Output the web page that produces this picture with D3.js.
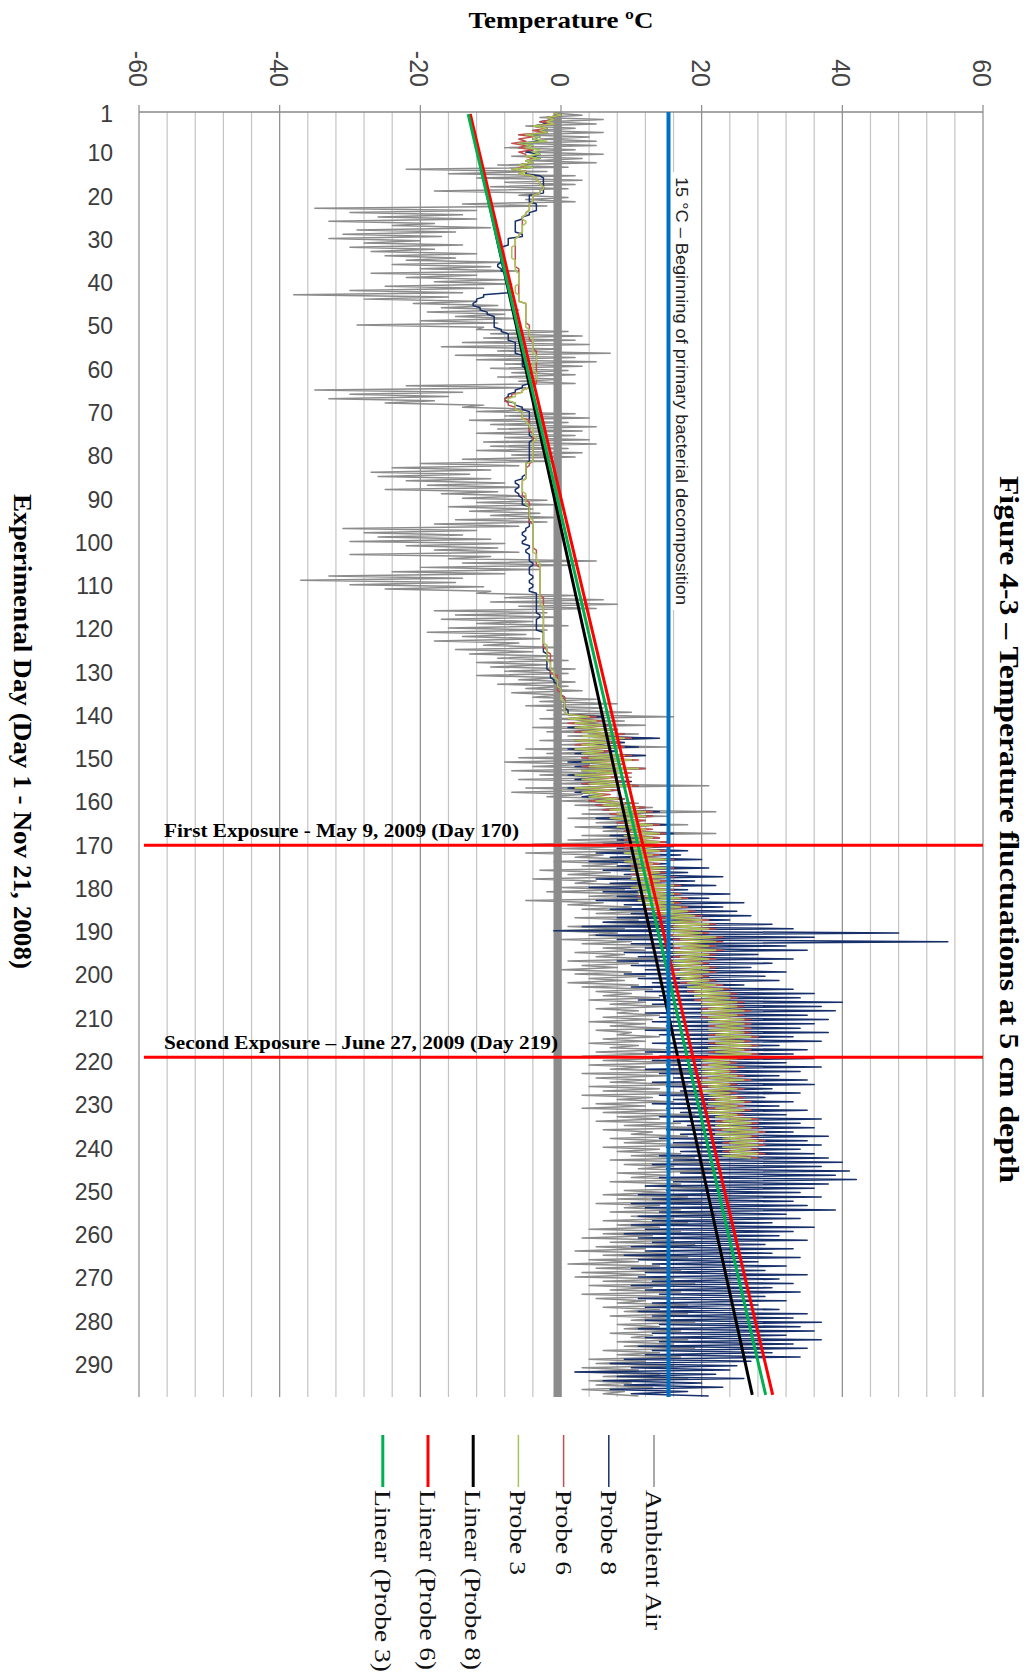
<!DOCTYPE html>
<html>
<head>
<meta charset="utf-8">
<script src="https://cdn.jsdelivr.net/npm/d3@7"></script>
<style>
  body { margin: 0; background: #fff; }
  svg { display: block; }
</style>
</head>
<body>
<svg id="chart" width="1034" height="1678"></svg>
<script>
// axis ticks
let tempTicks = [-60, -40, -20, 0, 20, 40, 60];
let dayTicks = [1, 10, 20, 30, 40, 50, 60, 70, 80, 90, 100, 110, 120, 130, 140, 150, 160, 170, 180, 190,
                200, 210, 220, 230, 240, 250, 260, 270, 280, 290];
let dayCount = 297;

// daily low / high readings, degrees C (day 1 first)
let ambientLo = [-1,-3,-2,-5,-4,-6,-3,-6,-8,-5, -7,-4,-9,-22,-16,-12,-8,-10,-18,-6,
  -5,-14,-35,-30,-26,-33,-24,-29,-31,-33, -28,-30,-27,-25,-22,-24,-20,-27,-22,-18,
  -25,-30,-38,-28,-21,-17,-19,-15,-20,-29, -12,-10,-11,-14,-17,-9,-15,-12,-8,-10,
  -7,-9,-6,-22,-35,-30,-33,-25,-14,-12, -8,-13,-10,-9,-12,-8,-11,-10,-12,-7,
  -14,-20,-24,-27,-26,-22,-19,-25,-17,-14, -12,-16,-13,-10,-15,-18,-31,-28,-26,-30,
  -22,-18,-30,-16,-14,-20,-24,-33,-37,-30, -25,-12,-8,-10,-6,-18,-15,-17,-12,-16,
  -19,-14,-18,-11,-15,-13,-9,-12,-10,-8, -12,-6,-9,-5,-7,-4,-3,-5,-2,-1,
  -3,0,-4,-2,1,-3,0,-5,-2,-6, -8,-4,-7,-3,-6,-1,-5,-7,-2,0,
  2,4,3,1,5,2,6,3,1,-4, 0,-5,2,-1,3,-3,1,-4,2,0,
  -2,4,-5,1,3,5,2,6,1,-1, 4,0,3,6,2,5,1,3,0,2,
  4,1,3,5,6,4,7,5,8,6, 4,7,5,8,6,4,7,5,3,6,
  4,7,3,5,7,4,6,3,8,5, 3,6,8,5,9,6,10,7,9,6,
  8,10,7,9,11,8,10,7,12,9, 6,8,5,9,7,10,6,8,4,6,
  3,7,5,2,6,4,1,5,3,2, 6,4,7,3,5,8,6,9,7,10,
  8,9,7,10,8,9,6,8,4,5, 3,2,6,4,5,3,6];
let ambientHi = [3,6,5,2,6,4,5,5,2,6, 3,5,1,-2,2,3,2,1,-3,1,
  2,-2,-12,-14,-12,-18,-10,-15,-17,-20, -14,-18,-12,-15,-8,-10,-6,-12,-8,-7,
  -11,-14,-16,-12,-9,-6,-8,-6,-9,-11, 1,3,2,4,0,7,2,5,3,1,
  2,0,2,-5,-14,-16,-18,-11,-3,2, 4,1,5,3,2,4,5,1,3,2,
  -1,-6,-10,-13,-10,-8,-6,-9,-5,-2, -1,-4,-3,0,-2,-6,-12,-14,-10,-8,
  -9,-6,-10,5,2,-3,-8,-14,-15,-11, -10,2,6,8,5,-2,0,-4,1,-2,
  -5,-3,-6,0,-4,-1,1,-2,2,1, 0,2,1,3,0,5,8,6,10,16,
  9,12,7,11,13,9,15,8,12,6, 4,9,5,10,8,21,7,3,9,11,
  13,22,15,12,18,10,22,14,11,9, 12,6,11,8,15,7,10,5,13,9,
  11,14,6,10,12,19,11,14,9,8, 13,10,16,12,9,14,11,8,10,12,
  9,11,13,10,14,12,15,11,14,13, 12,15,10,14,12,11,15,13,14,17,
  12,19,15,12,18,14,20,13,16,12, 15,19,14,17,20,13,18,15,20,14,
  17,19,21,16,22,15,20,17,21,15, 18,20,14,17,22,16,18,14,17,13,
  16,19,12,15,18,11,14,17,12,16, 19,13,17,15,12,18,14,18,15,19,
  14,17,13,18,16,19,14,17,12,16, 11,14,18,10,13,9,11];

let probe8Lo = [-1,-2,-3,-4,-3,-5,-4,-6,-5,-5, -4,-5,-6,-7,-5,-2.5,-2.5,-2.5,-2.5,-4.5,
  -4.5,-3.5,-3.5,-4.5,-5.5,-6.5,-6.5,-6.5,-5.5,-7.5, -7.5,-8.5,-8.5,-8.5,-8.5,-9,-8.5,-7.5,-7.5,-7.5,
  -7.5,-7.5,-11,-12,-12.5,-11.5,-10.5,-9.5,-9.5,-9.5, -8.5,-7.5,-7.5,-6.5,-6.5,-6.5,-5.5,-5.5,-5.5,-5,
  -4.5,-4.5,-4.5,-5.5,-6.5,-7.5,-8,-6.5,-5.5,-4.5, -4.5,-4.5,-4.5,-4.5,-4.5,-4,-4.5,-4.5,-4.5,-4.5,
  -4.5,-5,-5,-5,-5.5,-6.5,-6,-6.5,-6,-5.5, -5.5,-4.5,-4.5,-4.5,-4.5,-4.5,-5,-5.5,-5,-5.5,
  -4.5,-5,-4.5,-4.5,-4,-4.5,-4.5,-4,-4.5,-4, -4.5,-3.5,-3.5,-3.5,-3.5,-3.5,-3,-3.5,-3.5,-3.5,
  -2.5,-2.5,-2.5,-2.5,-2.5,-2,-2,-2,-2,-1.5, -1.5,-1,-0.5,0,0,0.5,0.5,0.5,1,1,
  1,2,1,2,3,2,3,1,2,3, 1,2,3,1,2,3,1,2,3,4,
  5,6,7,5,8,6,9,7,8,6, 8,5,7,4,8,6,9,5,7,4,
  6,8,5,9,7,10,8,6,3,-1, 5,8,10,12,9,11,8,10,12,9,
  11,13,10,12,14,11,13,15,12,14, 13,15,12,14,16,13,15,12,14,13,
  15,12,14,16,13,15,17,14,16,13, 15,17,14,16,18,15,17,14,16,15,
  17,14,16,13,15,17,14,16,12,15, 11,13,10,12,14,11,13,10,12,9,
  11,13,10,12,9,11,13,10,12,11, 13,10,12,14,11,13,12,11,13,12,
  14,11,13,12,14,11,13,12,9,7, 10,2,8,6,9,7,10];
let probe8Hi = [0,-1,-2,-2,-2,-3,-3,-4,-4,-3, -3,-4,-4,-5,-3,-2.5,-2.5,-2.5,-2.5,-4.5,
  -4.5,-3.5,-3.5,-4.5,-5.5,-6.5,-6.5,-6.5,-5.5,-7.5, -7.5,-8.5,-8.5,-8.5,-8.5,-9,-8.5,-7.5,-7.5,-7.5,
  -7.5,-7.5,-11,-12,-12.5,-11.5,-10.5,-9.5,-9.5,-9.5, -8.5,-7.5,-7.5,-6.5,-6.5,-6.5,-5.5,-5.5,-5.5,-5,
  -4.5,-4.5,-4.5,-5.5,-6.5,-7.5,-8,-6.5,-5.5,-4.5, -4.5,-4.5,-4.5,-4.5,-4.5,-4,-4.5,-4.5,-4.5,-4.5,
  -4.5,-5,-5,-5,-5.5,-6.5,-6,-6.5,-6,-5.5, -5.5,-4.5,-4.5,-4.5,-4.5,-4.5,-5,-5.5,-5,-5.5,
  -4.5,-5,-4.5,-4.5,-4,-4.5,-4.5,-4,-4.5,-4, -4.5,-3.5,-3.5,-3.5,-3.5,-3.5,-3,-3.5,-3.5,-3.5,
  -2.5,-2.5,-2.5,-2.5,-2.5,-2,-2,-2,-2,-1.5, -1.5,-1,-0.5,0,0,0.5,0.5,0.5,1,6,
  5,7,8,9,14,9,11,8,12,10, 8,12,9,7,10,11,8,6,9,10,
  12,14,13,11,15,12,16,14,15,16, 18,17,20,15,21,18,23,19,22,18,
  24,21,26,23,25,27,24,30,33,48, 36,55,32,35,28,33,30,27,32,29,
  31,26,33,36,34,40,37,39,35,38, 36,34,38,33,37,31,35,33,36,32,
  37,34,31,35,36,30,34,29,33,31, 35,32,37,34,36,33,38,35,37,34,
  36,38,40,37,41,39,42,38,36,34, 37,33,35,39,32,34,30,36,33,31,
  35,29,33,30,34,28,32,29,35,31, 33,30,34,29,32,28,31,35,33,37,
  34,36,32,37,33,35,30,34,27,25, 24,22,26,20,23,18,21];

let probe6Lo = [-1,-2,-3,-4,-4,-6,-6,-7,-6,-6, -5,-5,-6,-7,-6,-3.5,-3,-2.5,-3,-4,
  -4,-4.5,-4.5,-5,-5.5,-5.5,-5.5,-5.5,-6,-6.5, -6.5,-6.5,-6.5,-6.5,-6.5,-6.5,-6,-6,-6,-6,
  -6,-6,-6,-6,-5,-5,-5,-5,-5,-4.5, -4.5,-4.5,-4.5,-4,-4,-3.5,-3.5,-3.5,-3.5,-3.5,
  -3.5,-3.5,-3.5,-4.5,-5.5,-7,-8,-7.5,-6.5,-5.5, -5.5,-4.5,-4.5,-4.5,-4,-4,-4,-4,-4,-4,
  -4,-4.5,-5,-5,-5,-5.5,-5.5,-5.5,-5.5,-5, -4.5,-4.5,-4.5,-4.5,-4.5,-4,-4,-4,-4,-4,
  -4,-3.5,-3.5,-3.5,-3.5,-3,-3,-3,-3,-3, -3,-3,-2.5,-2.5,-2.5,-2.5,-2.5,-2.5,-2.5,-2.5,
  -2.5,-2.5,-2.5,-2.5,-2,-1.5,-1.5,-1.5,-1.5,-1.5, -0.5,-0.5,-0.5,-0.5,0,0.5,0.5,0.5,0.5,1,
  1,1,2,2,3,2,2,2,3,3, 3,3,3,2,3,3,2,3,4,4,
  5,6,7,7,8,8,9,9,9,9, 9,9,10,9,10,10,10,10,11,10,
  11,11,11,12,12,13,14,15,15,15, 15,16,16,16,16,16,16,16,16,16,
  17,17,18,18,19,19,20,20,20,20, 21,21,21,21,21,21,21,21,21,20,
  20,20,20,20,20,20,20,21,21,21, 21,21,22,22,22,22,22,23,23,23,
  23,23];
let probe6Hi = [0,-1,-1,-2,-2,-4,-5,-5,-4,-5, -4,-4,-5,-5,-4,-3.5,-3,-2.5,-3,-4,
  -4,-4.5,-4.5,-5,-5.5,-5.5,-5.5,-5.5,-6,-6.5, -6.5,-6.5,-6.5,-6.5,-6.5,-6.5,-6,-6,-6,-6,
  -6,-6,-6,-6,-5,-5,-5,-5,-5,-4.5, -4.5,-4.5,-4.5,-4,-4,-3.5,-3.5,-3.5,-3.5,-3.5,
  -3.5,-3.5,-3.5,-4.5,-5.5,-7,-8,-7.5,-6.5,-5.5, -5.5,-4.5,-4.5,-4.5,-4,-4,-4,-4,-4,-4,
  -4,-4.5,-5,-5,-5,-5.5,-5.5,-5.5,-5.5,-5, -4.5,-4.5,-4.5,-4.5,-4.5,-4,-4,-4,-4,-4,
  -4,-3.5,-3.5,-3.5,-3.5,-3,-3,-3,-3,-3, -3,-3,-2.5,-2.5,-2.5,-2.5,-2.5,-2.5,-2.5,-2.5,
  -2.5,-2.5,-2.5,-2.5,-2,-1.5,-1.5,-1.5,-1.5,-1.5, -0.5,-0.5,-0.5,-0.5,0,0.5,0.5,0.5,0.5,5,
  6,7,8,9,10,8,9,7,10,11, 9,12,10,8,9,11,8,7,9,10,
  12,13,13,12,14,13,15,14,15,14, 15,14,16,14,16,15,16,15,17,16,
  17,18,17,18,19,20,21,22,22,21, 23,23,22,23,22,22,21,22,22,21,
  22,23,24,25,25,26,26,27,26,27, 27,27,27,28,27,28,27,28,26,25,
  26,25,26,27,25,26,25,26,27,26, 27,26,28,28,28,29,28,29,29,28,
  29,28];

let probe3Lo = [-1,-2,-2,-4,-3,-5,-4,-6,-5,-4, -5,-5,-6,-7,-6,-3.5,-3,-2.5,-3,-4,
  -4,-4.5,-4.5,-5,-5.5,-5,-5.5,-5.5,-6,-6.5, -6.5,-7,-7,-7,-6.5,-6.5,-6.5,-6,-6,-6,
  -6.5,-6.5,-6,-6,-5,-5,-5,-5,-5,-5, -4.5,-4.5,-4,-4,-4,-4,-3.5,-3.5,-4,-4,
  -3.5,-3.5,-4,-4.5,-5.5,-6.5,-7.5,-6.5,-6.5,-5.5, -5.5,-5,-4.5,-4,-4,-3.5,-4,-4,-4,-4,
  -4,-5,-5,-5,-5,-5.5,-5.5,-5.5,-5,-5, -5,-4.5,-4.5,-4.5,-4,-4,-4,-4,-4,-4,
  -4,-4,-3.5,-3.5,-3,-3,-3,-3,-3,-3, -3,-3,-3,-3,-2.5,-2.5,-2.5,-2.5,-2.5,-2.5,
  -2.5,-2.5,-2.5,-2,-2,-2,-2,-1.5,-1.5,-1, -1,-0.5,-0.5,0,0,0,0.5,0.5,0.5,1,
  1,2,2,3,3,2,3,2,3,4, 3,4,3,2,3,4,2,3,4,5,
  6,7,8,7,9,8,10,9,10,9, 10,9,10,9,11,10,11,10,11,10,
  11,12,11,12,13,14,15,15,16,15, 16,17,16,17,16,17,16,16,17,16,
  17,18,18,19,19,20,20,21,20,21, 21,22,21,22,21,22,21,22,21,20,
  21,20,20,21,20,21,20,21,22,21, 22,21,22,23,22,23,22,23,24,23,
  24,23];
let probe3Hi = [0,-1,-1,-2,-2,-3,-2,-4,-3,-3, -3,-4,-4,-5,-4,-3.5,-3,-2.5,-3,-4,
  -4,-4.5,-4.5,-5,-5.5,-5,-5.5,-5.5,-6,-6.5, -6.5,-7,-7,-7,-6.5,-6.5,-6.5,-6,-6,-6,
  -6.5,-6.5,-6,-6,-5,-5,-5,-5,-5,-5, -4.5,-4.5,-4,-4,-4,-4,-3.5,-3.5,-4,-4,
  -3.5,-3.5,-4,-4.5,-5.5,-6.5,-7.5,-6.5,-6.5,-5.5, -5.5,-5,-4.5,-4,-4,-3.5,-4,-4,-4,-4,
  -4,-5,-5,-5,-5,-5.5,-5.5,-5.5,-5,-5, -5,-4.5,-4.5,-4.5,-4,-4,-4,-4,-4,-4,
  -4,-4,-3.5,-3.5,-3,-3,-3,-3,-3,-3, -3,-3,-3,-3,-2.5,-2.5,-2.5,-2.5,-2.5,-2.5,
  -2.5,-2.5,-2.5,-2,-2,-2,-2,-1.5,-1.5,-1, -1,-0.5,-0.5,0,0,0,0.5,0.5,0.5,4,
  5,6,7,8,9,7,8,6,9,10, 8,11,9,7,8,10,7,6,8,9,
  11,12,12,11,13,12,14,13,14,13, 14,13,15,13,15,14,15,14,16,15,
  16,17,16,17,18,19,20,21,21,20, 22,22,21,22,21,21,20,21,21,20,
  21,22,23,24,24,25,25,26,25,26, 26,26,26,27,26,27,26,27,25,24,
  25,24,25,26,24,25,24,25,26,25, 26,25,27,27,27,28,27,28,28,27,
  28,27];

// linear trend lines, value at first and last day
let trendDays = [1, 297];
let trendProbe8 = [-13.0, 27.2];
let trendProbe6 = [-12.9, 30.1];
let trendProbe3 = [-13.2, 29.1];

let thresholdTemp = 15;
let exposureDays = [170, 219];
let exposureNames = ["First Exposure - May 9, 2009 (Day 170)", "Second Exposure \u2013 June 27, 2009 (Day 219)"];

let legendNames = ["Ambient Air", "Probe 8", "Probe 6", "Probe 3", "Linear (Probe 8)", "Linear (Probe 6)", "Linear (Probe 3)"];
let legendColors = ["#8c8c8c", "#17306b", "#c0504d", "#a8c35a", "#000000", "#ff0000", "#00b050"];

var svg = d3.select("#chart");
var serif = "'Liberation Serif', 'Times New Roman', serif";
var sans = "'Liberation Sans', Arial, sans-serif";

// the chart is laid out turned on its side: days run down, temperature runs across
var x = d3.scaleLinear().domain([-60, 60]).range([139, 983]);
var y = d3.scaleLinear().domain([0.5, dayCount + 0.5]).range([112, 1397]);

// GRIDLINES
svg.append("g")
    .selectAll("line")
    .data(d3.range(-60, 61, 4))
    .enter().append("line")
    .attr("x1", d => x(d)).attr("x2", d => x(d))
    .attr("y1", y.range()[0]).attr("y2", y.range()[1])
    .attr("stroke", d => d % 20 == 0 ? "#8a8a8a" : "#c4c4c4")
    .attr("stroke-width", 1.2);

// thick zero line
svg.append("line")
    .attr("x1", x(0) - 3.5).attr("x2", x(0) - 3.5)
    .attr("y1", y.range()[0]).attr("y2", y.range()[1])
    .attr("stroke", "#8c8c8c")
    .attr("stroke-width", 8);

// top axis line and ticks
svg.append("line")
    .attr("x1", x(-60)).attr("x2", x(60))
    .attr("y1", y.range()[0]).attr("y2", y.range()[0])
    .attr("stroke", "#8a8a8a").attr("stroke-width", 1.5);
svg.append("g")
    .selectAll("line")
    .data(tempTicks)
    .enter().append("line")
    .attr("x1", d => x(d)).attr("x2", d => x(d))
    .attr("y1", y.range()[0] - 7).attr("y2", y.range()[0])
    .attr("stroke", "#8a8a8a").attr("stroke-width", 1.2);

// temperature tick labels, turned to read downward
svg.append("g")
    .selectAll("text")
    .data(tempTicks)
    .enter().append("text")
    .attr("transform", d => "translate(" + (x(d) - 10) + ",87) rotate(90)")
    .attr("text-anchor", "end")
    .style("font-family", sans)
    .style("font-size", "25px")
    .attr("fill", "#444")
    .text(d => d);

// day labels
svg.append("g")
    .selectAll("text")
    .data(dayTicks)
    .enter().append("text")
    .attr("x", 113)
    .attr("y", d => y(d))
    .attr("dy", "0.36em")
    .attr("text-anchor", "end")
    .style("font-family", sans)
    .style("font-size", "23px")
    .attr("fill", "#3c3c3c")
    .text(d => d);

// SERIES
function dailySwing(lo, hi){
    let pts = [];
    lo.forEach(function(v, i){
        pts.push([i + 0.75, v]);
        pts.push([i + 1.25, hi[i]]);
    });
    return pts;
}
var swingLine = d3.line()
    .defined(p => p[1] != null)
    .x(p => x(p[1]))
    .y(p => y(p[0]));

let series = [
    {lo: ambientLo, hi: ambientHi, color: legendColors[0], width: 1.5},
    {lo: probe8Lo, hi: probe8Hi, color: legendColors[1], width: 1.5},
    {lo: probe6Lo, hi: probe6Hi, color: legendColors[2], width: 1.5},
    {lo: probe3Lo, hi: probe3Hi, color: legendColors[3], width: 1.5}
];
svg.append("g")
    .attr("class", "series")
    .selectAll("path")
    .data(series)
    .enter().append("path")
    .attr("d", s => swingLine(dailySwing(s.lo, s.hi)))
    .attr("fill", "none")
    .attr("stroke", s => s.color)
    .attr("stroke-width", s => s.width)
    .attr("stroke-linejoin", "round");

// TREND LINES
let trends = [
    {v: trendProbe8, color: legendColors[4]},
    {v: trendProbe6, color: legendColors[5]},
    {v: trendProbe3, color: legendColors[6]}
];
svg.append("g")
    .selectAll("line")
    .data(trends)
    .enter().append("line")
    .attr("x1", t => x(t.v[0])).attr("y1", t => y(trendDays[0]))
    .attr("x2", t => x(t.v[1])).attr("y2", t => y(trendDays[1]))
    .attr("stroke", t => t.color)
    .attr("stroke-width", 3);

// 15 C threshold line and its note
svg.append("line")
    .attr("x1", x(thresholdTemp) + 2).attr("x2", x(thresholdTemp) + 2)
    .attr("y1", y.range()[0]).attr("y2", y.range()[1])
    .attr("stroke", "#0070c0")
    .attr("stroke-width", 4);
svg.append("rect")
    .attr("x", 671).attr("y", 172)
    .attr("width", 22).attr("height", 438)
    .attr("fill", "#fff");
svg.append("text")
    .attr("transform", "translate(676,177) rotate(90)")
    .attr("textLength", 428)
    .attr("lengthAdjust", "spacingAndGlyphs")
    .style("font-family", sans)
    .style("font-size", "16px")
    .attr("fill", "#222")
    .text("15 \u00b0C \u2013 Beginning of primary bacterial decomposition");

// exposure lines
svg.append("g")
    .selectAll("line")
    .data(exposureDays)
    .enter().append("line")
    .attr("x1", x(-59.3)).attr("x2", x(60))
    .attr("y1", d => y(d)).attr("y2", d => y(d))
    .attr("stroke", "#ff0000")
    .attr("stroke-width", 3);
svg.append("g")
    .selectAll("text")
    .data(exposureDays)
    .enter().append("text")
    .attr("x", 164)
    .attr("y", d => y(d) - 8)
    .attr("textLength", (d, i) => [355, 394][i])
    .attr("lengthAdjust", "spacingAndGlyphs")
    .style("font-family", serif)
    .style("font-size", "19px")
    .style("font-weight", "bold")
    .text((d, i) => exposureNames[i]);

// TITLES
svg.append("text")
    .attr("x", 561).attr("y", 28)
    .attr("text-anchor", "middle")
    .attr("textLength", 185)
    .attr("lengthAdjust", "spacingAndGlyphs")
    .style("font-family", serif)
    .style("font-size", "23px")
    .style("font-weight", "bold")
    .text("Temperature \u00baC");

svg.append("text")
    .attr("transform", "translate(14,494) rotate(90)")
    .attr("textLength", 475)
    .attr("lengthAdjust", "spacingAndGlyphs")
    .style("font-family", serif)
    .style("font-size", "25px")
    .style("font-weight", "bold")
    .text("Experimental Day (Day 1 - Nov 21, 2008)");

svg.append("text")
    .attr("transform", "translate(1000,476) rotate(90)")
    .attr("textLength", 707)
    .attr("lengthAdjust", "spacingAndGlyphs")
    .style("font-family", serif)
    .style("font-size", "28px")
    .style("font-weight", "bold")
    .text("Figure 4-3 \u2013 Temperature fluctuations at 5 cm depth");

// LEGEND
let legendLengths = [140, 85, 85, 85, 180, 180, 182];
var legend = svg.append("g")
    .selectAll("g")
    .data(legendNames)
    .enter().append("g")
    .attr("transform", (d, i) => "translate(" + (654 - i * 45.2) + ",0)");
legend.append("line")
    .attr("x1", 0).attr("x2", 0)
    .attr("y1", 1435).attr("y2", 1487)
    .attr("stroke", (d, i) => legendColors[i])
    .attr("stroke-width", (d, i) => i >= 4 ? 3 : 1.5);
legend.append("text")
    .attr("transform", "translate(-8,1490) rotate(90)")
    .attr("textLength", (d, i) => legendLengths[i])
    .attr("lengthAdjust", "spacingAndGlyphs")
    .style("font-family", serif)
    .style("font-size", "24px")
    .attr("fill", "#111")
    .text(d => d);
</script>
</body>
</html>
